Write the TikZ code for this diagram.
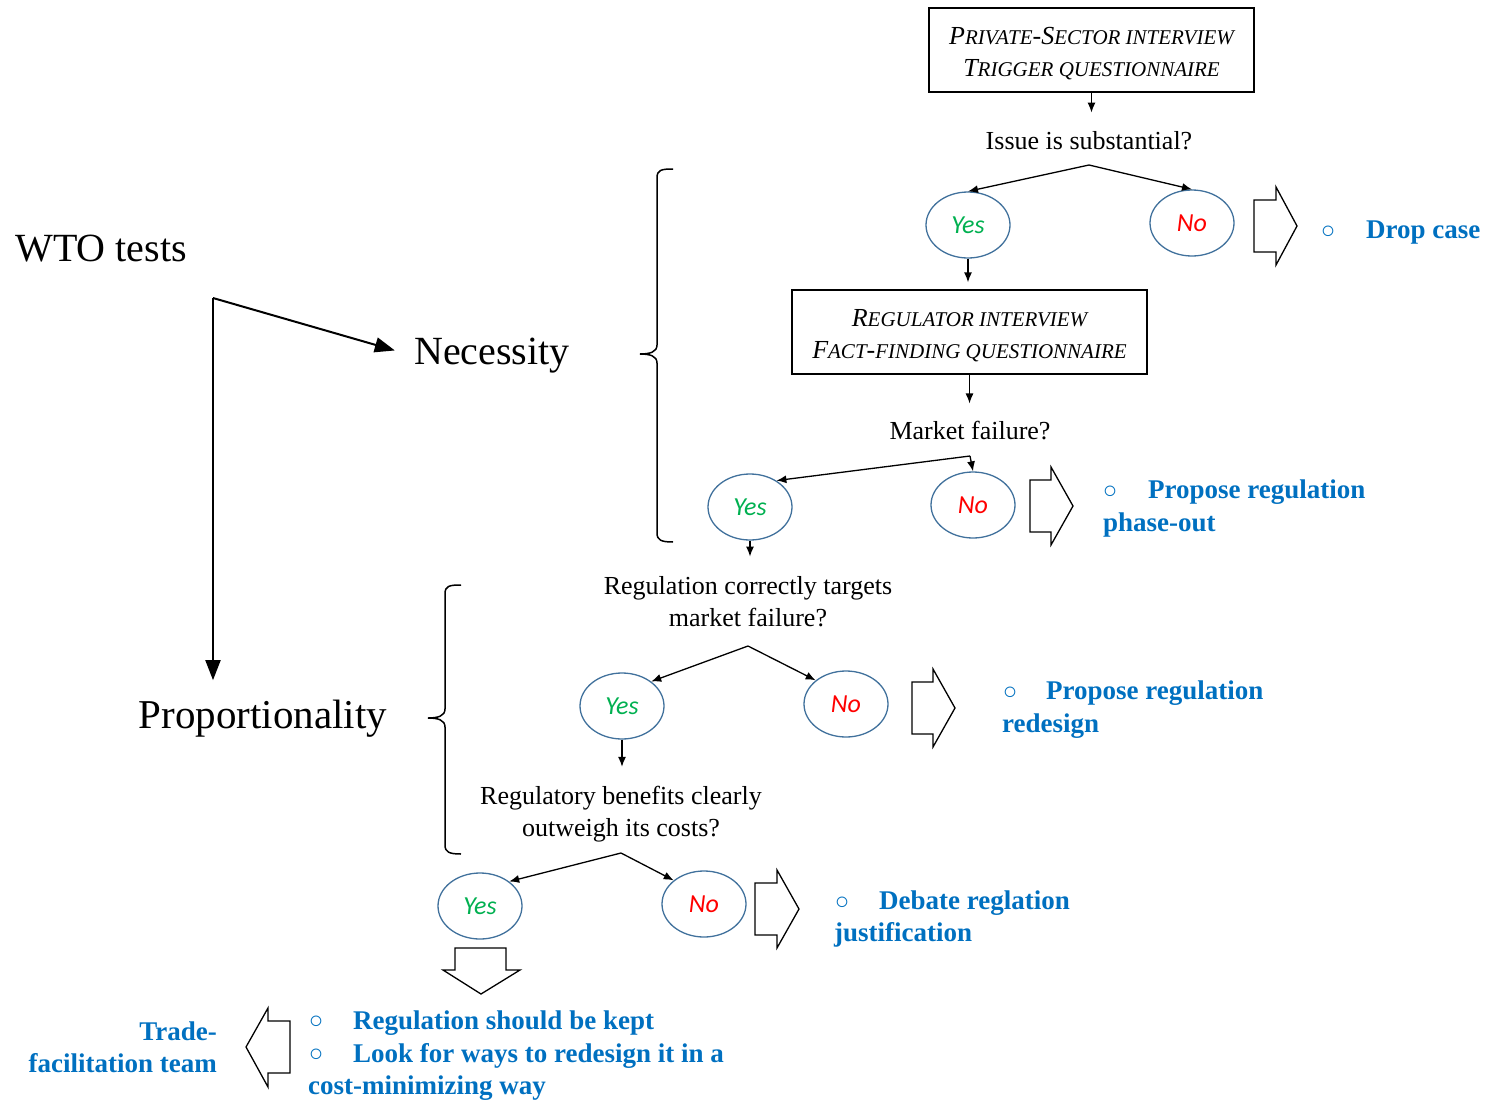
\documentclass[tikz,border=0pt]{standalone}
\usepackage{fontspec}
\setmainfont{Liberation Serif}
\newfontfamily\yesnofont{Carlito}
\usetikzlibrary{arrows.meta,shapes.geometric,calc}
\definecolor{bluetxt}{HTML}{0070C0}
\definecolor{yesgreen}{HTML}{00B050}
\definecolor{nored}{HTML}{FF0000}
\definecolor{ellline}{HTML}{41719C}
\newcommand{\fsz}[2]{\fontsize{#1}{#2}\selectfont}
\newcommand{\mysc}[1]{{\fontsize{21}{32}\selectfont #1}}
\begin{document}
\begin{tikzpicture}[x=1pt,y=-1pt,
  boxnode/.style={draw, line width=1.3pt, minimum height=84pt, inner sep=0pt,
    font=\itshape\fsz{26}{32}, align=center},
  qnode/.style={font=\fsz{26}{32}, align=center, inner sep=0pt},
  yesnode/.style={ellipse, draw=ellline, line width=1.3pt, minimum width=84pt,
    minimum height=66pt, inner sep=0pt, font=\yesnofont\itshape\fsz{26}{26}, text=yesgreen},
  nonode/.style={yesnode, text=nored},
  arr/.style={-{Latex[length=10pt,width=8pt]}, line width=1.3pt},
  bigarr/.style={-{Triangle[length=20pt,width=15pt]}, line width=2pt},
  blockarrow/.style={draw, line width=1.3pt, fill=white, line join=miter},
  resnode/.style={font=\bfseries\fsz{27}{33}, text=bluetxt, inner sep=0pt, anchor=base west},
  resright/.style={resnode, anchor=base east},
  bulletnode/.style={font=\fsz{24}{24}, text=bluetxt, inner sep=0pt},
  bigtext/.style={font=\fsz{40}{48}, inner sep=0pt},
  bracepath/.style={line width=1.5pt}
]
\useasboundingbox (0,0) rectangle (1489,1100);

% left side
\node[bigtext] (wto) at (101,249) {WTO tests};
\node[bigtext] (nec) at (492,356) {Necessity};
\node[bigtext, font=\fsz{41}{48}] (prop) at (263,719) {Proportionality};
\coordinate (split) at (213,298);
\draw[bigarr, shorten >=20pt] (split) -- (nec.west);
\draw[bigarr, shorten >=20pt] (split) -- (split |- prop.north);

% braces
\draw[bracepath] (673,169) .. controls (661,169) and (657,170) .. (657,178)
  -- (657,345) .. controls (657,352) and (650,354) .. (640,354)
  .. controls (650,354) and (657,356) .. (657,363)
  -- (657,533) .. controls (657,540) and (661,542) .. (673,542);
\draw[bracepath] (461,585) .. controls (449,585) and (445,586) .. (445,594)
  -- (445,709) .. controls (445,716) and (438,718) .. (428,718)
  .. controls (438,718) and (445,720) .. (445,727)
  -- (445,845) .. controls (445,852) and (449,854) .. (461,854);

% boxes
\node[boxnode, minimum width=325pt] (b1) at (1091.5,50)
  {\raisebox{0pt}[25pt][0pt]{}P\mysc{RIVATE}-S\mysc{ECTOR INTERVIEW}\\T\mysc{RIGGER QUESTIONNAIRE}};
\node[boxnode, minimum width=355pt] (b2) at (969.5,332)
  {\raisebox{0pt}[25pt][0pt]{}R\mysc{EGULATOR INTERVIEW}\\F\mysc{ACT}-\mysc{FINDING QUESTIONNAIRE}};

% questions
\node[qnode] (q1) at (1089,141) {Issue is substantial?};
\node[qnode] (q2) at (970,431) {Market failure?};
\node[qnode] (q3) at (748,602) {Regulation correctly targets\\market failure?};
\node[qnode] (q4) at (621,814) {Regulatory benefits clearly\\outweigh its costs?};

% yes / no
\node[yesnode] (y1) at (968,225) {Yes};
\node[nonode]  (n1) at (1192,223) {No};
\node[yesnode] (y2) at (750,507) {Yes};
\node[nonode]  (n2) at (973,505) {No};
\node[yesnode] (y3) at (622,706) {Yes};
\node[nonode]  (n3) at (846,704) {No};
\node[yesnode] (y4) at (480,906) {Yes};
\node[nonode]  (n4) at (704,904) {No};

% vertical arrows
\draw[arr, shorten >=19pt] (b1.south) -- (b1.south |- q1.north);
\draw[arr, shorten >=7pt] (y1.south) -- (y1.south |- b2.north);
\draw[arr, shorten >=18pt] (b2.south) -- (b2.south |- q2.north);
\draw[arr, shorten >=20pt] (y2.south) -- (y2.south |- q3.north);
\draw[arr, shorten >=19pt] (y3.south) -- (y3.south |- q4.north);

% branch apexes
\coordinate (a1) at (1089,165);
\coordinate (a2) at (970,456);
\coordinate (a3) at (748,646);
\coordinate (a4) at (621,853);
\draw[arr] (a1) -- (y1.north);
\draw[arr] (a1) -- (n1.north);
\draw[arr] (a2) -- (y2.45);
\draw[arr] (a2) -- (n2.north);
\draw[arr] (a3) -- (y3.40);
\draw[arr] (a3) -- (n3.142);
\draw[arr] (a4) -- (y4.40);
\draw[arr] (a4) -- (n4.142);

% block arrows
\draw[blockarrow] (1254,200) -- (1276,200) -- (1276,187) -- (1297,226) -- (1276,265) -- (1276,252) -- (1254,252) -- cycle;
\draw[blockarrow] (1030,480) -- (1051,480) -- (1051,467) -- (1073,506) -- (1051,545) -- (1051,532) -- (1030,532) -- cycle;
\draw[blockarrow] (912,682) -- (933,682) -- (933,669) -- (955,708) -- (933,747) -- (933,734) -- (912,734) -- cycle;
\draw[blockarrow] (755,883) -- (777,883) -- (777,870) -- (799,909) -- (777,948) -- (777,935) -- (755,935) -- cycle;
\draw[blockarrow] (455,948) -- (506,948) -- (506,970) -- (520,970) -- (481,994) -- (443,970) -- (455,970) -- cycle;
\draw[blockarrow] (290,1021) -- (268,1021) -- (268,1008) -- (246,1047) -- (268,1087) -- (268,1073) -- (290,1073) -- cycle;

% results
\node[bulletnode] (r1b) at (1328,232) {○};
\node[resnode] (r1) at (1366,238) {Drop case};
\node[bulletnode] (r2b) at (1110,492) {○};
\node[resnode] (r2) at (1148,498) {Propose regulation};
\node[resnode] (r2l) at (1103,531) {phase-out};
\node[bulletnode] (r3b) at (1010,693) {○};
\node[resnode] (r3) at (1046,699) {Propose regulation};
\node[resnode] (r3l) at (1002,732) {redesign};
\node[bulletnode] (r4b) at (842,903) {○};
\node[resnode] (r4) at (879,909) {Debate reglation};
\node[resnode] (r4l) at (834,941) {justification};
\node[bulletnode] (r5b) at (316,1022) {○};
\node[resnode] (r5) at (353,1029) {Regulation should be kept};
\node[bulletnode] (r6b) at (316,1055) {○};
\node[resnode] (r6) at (353,1062) {Look for ways to redesign it in a};
\node[resnode] (r6l) at (308,1094) {cost-minimizing way};
\node[resright] (tf1) at (217,1040) {Trade-};
\node[resright] (tf2) at (217,1072) {facilitation team};
\end{tikzpicture}
\end{document}
